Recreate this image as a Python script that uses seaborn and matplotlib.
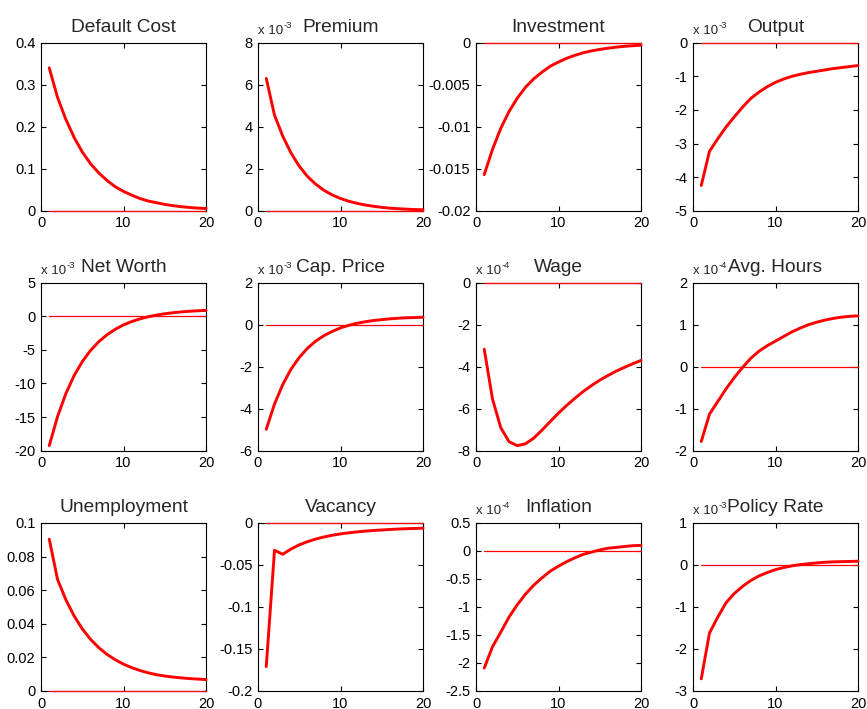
import numpy as np
import pandas as pd
import matplotlib
matplotlib.use("Agg")
import matplotlib.pyplot as plt
from matplotlib.ticker import FuncFormatter, MultipleLocator
import seaborn as sns

# Impulse responses, horizons 1..20
horizon = list(range(1, 21))

titles = ["Default Cost", "Premium", "Investment", "Output",
          "Net Worth", "Cap. Price", "Wage", "Avg. Hours",
          "Unemployment", "Vacancy", "Inflation", "Policy Rate"]

# power of ten shown above each panel (None = unscaled)
exponents = [None, -3, None, -3,
             -3, -3, -4, -4,
             None, None, -4, -3]

default_cost = [0.340, 0.270, 0.218, 0.175, 0.140, 0.112, 0.090, 0.072, 0.057, 0.046,
                0.037, 0.029, 0.023, 0.019, 0.015, 0.012, 0.0095, 0.0077, 0.0062, 0.0052]
premium = [6.30, 4.55, 3.55, 2.75, 2.12, 1.63, 1.26, 0.97, 0.75, 0.58,
           0.45, 0.35, 0.27, 0.21, 0.16, 0.12, 0.095, 0.073, 0.056, 0.043]
investment = [-0.0157, -0.0127, -0.0102, -0.0082, -0.0066, -0.0053, -0.0043, -0.0035, -0.0028, -0.0023,
              -0.00185, -0.0015, -0.0012, -0.00098, -0.0008, -0.00065, -0.00053, -0.00043, -0.00036, -0.0003]
output = [-4.25, -3.23, -2.86, -2.51, -2.21, -1.92, -1.66, -1.47, -1.31, -1.18,
          -1.08, -1.00, -0.94, -0.89, -0.85, -0.81, -0.77, -0.74, -0.71, -0.68]
net_worth = [-19.25, -14.94, -11.54, -8.85, -6.75, -5.09, -3.78, -2.75, -1.93, -1.28,
             -0.78, -0.38, -0.07, 0.18, 0.38, 0.53, 0.65, 0.75, 0.82, 0.88]
cap_price = [-4.98, -3.78, -2.85, -2.12, -1.56, -1.12, -0.78, -0.52, -0.32, -0.15,
             -0.03, 0.07, 0.14, 0.20, 0.24, 0.28, 0.31, 0.33, 0.34, 0.355]
wage = [-3.17, -5.54, -6.90, -7.57, -7.76, -7.67, -7.40, -7.02, -6.61, -6.21,
        -5.84, -5.50, -5.18, -4.90, -4.64, -4.42, -4.21, -4.03, -3.86, -3.70]
avg_hours = [-1.78, -1.13, -0.83, -0.53, -0.26, -0.02, 0.20, 0.37, 0.50, 0.61,
             0.72, 0.83, 0.92, 1.00, 1.06, 1.11, 1.15, 1.18, 1.20, 1.21]
unemployment = [0.0904, 0.0665, 0.0545, 0.0448, 0.0370, 0.0308, 0.0258, 0.0218, 0.0186, 0.0160,
                0.0139, 0.0122, 0.0108, 0.0097, 0.0089, 0.0083, 0.0078, 0.0074, 0.0071, 0.0068]
vacancy = [-0.171, -0.0325, -0.0372, -0.0310, -0.0260, -0.0222, -0.0191, -0.0166, -0.0146, -0.0130,
           -0.0117, -0.0106, -0.0097, -0.0089, -0.0083, -0.0077, -0.0072, -0.0068, -0.0065, -0.0062]
inflation = [-2.09, -1.71, -1.45, -1.18, -0.96, -0.77, -0.61, -0.48, -0.36, -0.27,
             -0.19, -0.12, -0.06, -0.02, 0.02, 0.05, 0.065, 0.08, 0.095, 0.10]
policy_rate = [-2.71, -1.62, -1.24, -0.90, -0.68, -0.51, -0.37, -0.26, -0.18, -0.11,
               -0.06, -0.02, 0.01, 0.03, 0.05, 0.065, 0.075, 0.08, 0.085, 0.09]

series = [default_cost, premium, investment, output,
          net_worth, cap_price, wage, avg_hours,
          unemployment, vacancy, inflation, policy_rate]

# y-axis ranges and tick spacing per panel
y_limits = [(0, 0.4), (0, 8), (-0.02, 0), (-5, 0),
            (-20, 5), (-6, 2), (-8, 0), (-2, 2),
            (0, 0.1), (-0.2, 0), (-2.5, 0.5), (-3, 1)]
y_steps = [0.1, 2, 0.005, 1, 5, 2, 2, 1, 0.02, 0.05, 0.5, 1]

sns.set_style("ticks")
plt.rcParams["font.family"] = ["Liberation Sans", "DejaVu Sans"]
plt.rcParams["axes.unicode_minus"] = False
plt.rcParams["xtick.direction"] = "in"
plt.rcParams["ytick.direction"] = "in"

W, H = 867, 709
fig = plt.figure(figsize=(W / 100, H / 100), dpi=100)

col_left = [41, 258, 476, 693]
row_top = [42.7, 282.7, 523]
ax_w, ax_h = 165, 168

fmt = FuncFormatter(lambda v, p: f"{v:g}")

for i, (title, vals) in enumerate(zip(titles, series)):
    r, c = divmod(i, 4)
    left = col_left[c] / W
    bottom = 1 - (row_top[r] + ax_h) / H
    ax = fig.add_axes([left, bottom, ax_w / W, ax_h / H])

    df = pd.DataFrame({"t": horizon, "v": vals, "zero": [0.0] * len(horizon)})
    sns.lineplot(data=df, x="t", y="zero", ax=ax, color="red", linewidth=0.9)
    sns.lineplot(data=df, x="t", y="v", ax=ax, color="red", linewidth=2.1)
    for ln in ax.lines:
        ln.set_clip_on(False)
        ln.set_zorder(3)

    ax.set_xlim(0, 20)
    ax.set_ylim(*y_limits[i])
    ax.xaxis.set_major_locator(MultipleLocator(10))
    ax.yaxis.set_major_locator(MultipleLocator(y_steps[i]))
    ax.yaxis.set_major_formatter(fmt)
    ax.set_xlabel("")
    ax.set_ylabel("")
    ax.tick_params(axis="both", which="both", direction="in", length=3.5, width=0.8,
                   labelsize=10.5, top=True, right=True, pad=4, colors="black")
    for sp in ax.spines.values():
        sp.set_visible(True)
        sp.set_linewidth(0.8)
        sp.set_color("black")
    ax.set_title(title, fontsize=13.8, pad=8)
    if exponents[i] is not None:
        base = ax.annotate("x 10", xy=(0, 1), xycoords="axes fraction",
                           xytext=(0, 4), textcoords="offset points",
                           fontsize=9.5, ha="left", va="bottom")
        ax.annotate(f"{exponents[i]}", xy=(1, 1), xycoords=base,
                    xytext=(0.3, -3.2), textcoords="offset points",
                    fontsize=6.8, ha="left", va="bottom")

fig.savefig("out.png", dpi=100)
